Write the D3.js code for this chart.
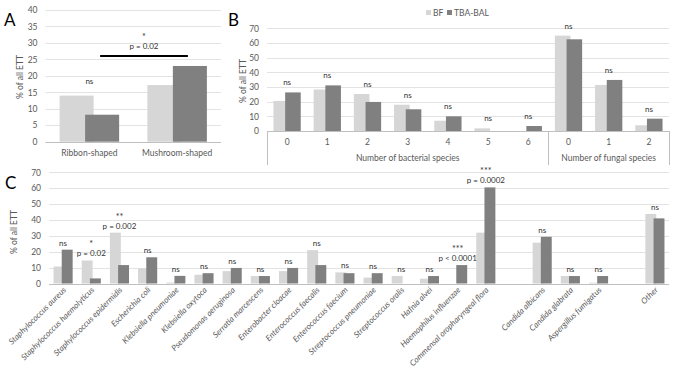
<!DOCTYPE html>
<html><head><meta charset="utf-8">
<script src="https://cdn.jsdelivr.net/npm/d3@7"></script>
<style>
body{margin:0;background:#fff}
text{font-family:Lato,"Open Sans","Liberation Sans",sans-serif}
</style>
</head><body>
<svg id="chart" width="677" height="375"></svg>
<script>
// ---------- data ----------
const seriesNames = ["BF", "TBA-BAL"];

const aCategories = ["Ribbon-shaped", "Mushroom-shaped"];
const aBF  = [14, 17.2];
const aTBA = [8.2, 23];
const aSig = ["ns", ""];
const aTicks = [0, 5, 10, 15, 20, 25, 30, 35, 40];
const aPairStar = "*";
const aPairP = "p = 0.02";
const aPairLevel = 26;

const bGroups = ["Number of bacterial species", "Number of fungal species"];
const bCategories = ["0", "1", "2", "3", "4", "5", "6", "0", "1", "2"];
const bGroupOf = [0, 0, 0, 0, 0, 0, 0, 1, 1, 1];
const bBF  = [20.5, 28.3, 25.2, 17.9, 7, 1.8, 0, 65, 31.4, 3.9];
const bTBA = [26.3, 31.1, 19.8, 14.8, 10, 0, 3.4, 62.5, 34.8, 8.4];
const bSig = ["ns", "ns", "ns", "ns", "ns", "ns", "ns", "ns", "ns", "ns"];
const bTicks = [0, 10, 20, 30, 40, 50, 60, 70];

const cCategories = [
  "Staphylococcus aureus", "Staphylococcus haemolyticus", "Staphylococcus epidermidis",
  "Escherichia coli", "Klebsiella pneumoniae", "Klebsiella oxytoca", "Pseudomonas aeruginosa",
  "Serratia marcescens", "Enterobacter cloacae", "Enterococcus faecalis", "Enterococcus faecium",
  "Streptococcus pneumoniae", "Streptococcus oralis", "Hafnia alvei", "Haemophilus influenzae",
  "Commensal oropharyngeal flora", "",
  "Candida albicans", "Candida glabrata", "Aspergillus fumigatus", "",
  "Other"];
const cBF  = [10.7, 14.5, 32, 9.5, 0.6, 5.5, 7.8, 4.7, 7.8, 21, 7, 3.7, 4.7, 3, 0, 32, null, 25.7, 4.7, 0.5, null, 43.8];
const cTBA = [21.3, 3.2, 11.6, 16.5, 4.8, 6.5, 9.8, 4.7, 9.8, 11.6, 6.5, 6.5, 0, 4.7, 11.6, 60.5, null, 29.4, 4.7, 4.7, null, 41];
const cStars = ["", "*", "**", "", "", "", "", "", "", "", "", "", "", "", "***", "***", "", "", "", "", "", ""];
const cP = ["ns", "p = 0.02", "p = 0.002", "ns", "ns", "ns", "ns", "ns", "ns", "ns", "ns", "ns", "ns", "ns", "p < 0.0001", "p = 0.0002", "", "ns", "ns", "ns", "", "ns"];
const cTicks = [0, 10, 20, 30, 40, 50, 60, 70];

// ---------- style ----------
const colBF = "#d6d6d6", colTBA = "#808080";
const gridCol = "#e3e3e3", axisCol = "#bfbfbf", txtCol = "#595959", annCol = "#333333";

const svg = d3.select("#chart");

function panel(o) {
  const n = o.cats.length;
  const x = d3.scaleBand().domain(d3.range(n)).range([o.left, o.right]).padding(0);
  const y = d3.scaleLinear().domain([0, o.max]).range([o.bottom, o.top]);
  const g = svg.append("g");
  g.selectAll("line.grid").data(o.ticks.filter(t => t > 0)).join("line")
    .attr("x1", o.left).attr("x2", o.right)
    .attr("y1", d => Math.round(y(d)) + 0.5).attr("y2", d => Math.round(y(d)) + 0.5)
    .attr("stroke", gridCol).attr("stroke-width", 1);
  const ax = d3.axisLeft(y).tickValues(o.ticks).tickSize(0).tickPadding(8);
  const axg = g.append("g").attr("transform", `translate(${o.left},0)`).call(ax);
  axg.select(".domain").remove();
  axg.selectAll("text").attr("fill", txtCol).style("font-size", "8.5px").style("font-family", "Lato,'Open Sans',sans-serif");
  const w = x.bandwidth() / 2.58;
  const cx = i => x(i) + x.bandwidth() / 2;
  const idx = d3.range(n).filter(i => o.bf[i] != null);
  g.selectAll("rect.bf").data(idx).join("rect")
    .attr("x", i => cx(i) - 0.875 * w).attr("width", w)
    .attr("y", i => y(o.bf[i])).attr("height", i => y(0) - y(o.bf[i]))
    .attr("fill", colBF);
  g.selectAll("rect.tba").data(idx).join("rect")
    .attr("x", i => cx(i) - 0.125 * w).attr("width", w)
    .attr("y", i => y(o.tba[i])).attr("height", i => y(0) - y(o.tba[i]))
    .attr("fill", colTBA);
  g.append("line").attr("x1", o.left).attr("x2", o.right)
    .attr("y1", Math.round(y(0)) + 0.5).attr("y2", Math.round(y(0)) + 0.5)
    .attr("stroke", axisCol).attr("stroke-width", 1);
  g.append("text").attr("transform", `translate(${o.titleX},${o.titleY}) rotate(-90)`)
    .attr("text-anchor", "middle").attr("dominant-baseline", "middle")
    .attr("fill", txtCol).style("font-size", "8.5px").text("% of all ETT");
  return {x, y, g, cx, w};
}

// ---------- Panel A ----------
const A = panel({left: 45.5, right: 221, top: 10, bottom: 141.7, max: 40, ticks: aTicks,
  cats: aCategories, bf: aBF, tba: aTBA, titleX: 21, titleY: 77});
A.g.selectAll("text.cat").data(aCategories).join("text")
  .attr("x", (d, i) => A.cx(i)).attr("y", 156).attr("text-anchor", "middle")
  .attr("fill", txtCol).style("font-size", "8.5px").text(d => d);
A.g.selectAll("text.sig").data(aSig).join("text")
  .attr("x", (d, i) => A.cx(i)).attr("y", (d, i) => A.y(Math.max(aBF[i], aTBA[i])) - 12)
  .attr("text-anchor", "middle").attr("fill", annCol).style("font-size", "8px").text(d => d);
{
  const x1 = A.cx(0) + 0.375 * A.w - 2, x2 = A.cx(1) + 0.375 * A.w - 2;
  const yl = A.y(aPairLevel);
  A.g.append("line").attr("x1", x1).attr("x2", x2).attr("y1", yl).attr("y2", yl)
    .attr("stroke", "#000").attr("stroke-width", 2);
  A.g.append("text").attr("x", (x1 + x2) / 2).attr("y", yl - 7).attr("text-anchor", "middle")
    .attr("fill", annCol).style("font-size", "8px").text(aPairP);
  A.g.append("text").attr("x", (x1 + x2) / 2).attr("y", yl - 16).attr("text-anchor", "middle")
    .attr("fill", annCol).style("font-size", "9px").text(aPairStar);
}

// ---------- Panel B ----------
const B = panel({left: 267, right: 669, top: 28.3, bottom: 131, max: 70, ticks: bTicks,
  cats: bCategories, bf: bBF, tba: bTBA, titleX: 244, titleY: 81});
B.g.selectAll("text.cat").data(bCategories).join("text")
  .attr("x", (d, i) => B.cx(i)).attr("y", 145).attr("text-anchor", "middle")
  .attr("fill", txtCol).style("font-size", "8.5px").text(d => d);
B.g.selectAll("text.sig").data(bSig).join("text")
  .attr("x", (d, i) => B.cx(i)).attr("y", (d, i) => B.y(Math.max(bBF[i], bTBA[i])) - 7)
  .attr("text-anchor", "middle").attr("fill", annCol).style("font-size", "8px").text(d => d);
{
  const bounds = [0];
  for (let i = 1; i < bCategories.length; i++) if (bGroupOf[i] !== bGroupOf[i - 1]) bounds.push(i);
  const edges = bounds.map(i => B.x(i)).concat([B.x(bCategories.length - 1) + B.x.bandwidth()]);
  B.g.selectAll("line.sep").data(edges).join("line")
    .attr("x1", d => Math.round(d) + 0.5).attr("x2", d => Math.round(d) + 0.5)
    .attr("y1", B.y(0)).attr("y2", 165).attr("stroke", axisCol);
  B.g.selectAll("text.grp").data(bGroups).join("text")
    .attr("x", (d, k) => (edges[k] + edges[k + 1]) / 2).attr("y", 161)
    .attr("text-anchor", "middle").attr("fill", txtCol).style("font-size", "8.5px").text(d => d);
  const leg = svg.append("g");
  const lx = [426, 447];
  leg.selectAll("rect").data(seriesNames).join("rect")
    .attr("x", (d, i) => lx[i]).attr("y", 10).attr("width", 5).attr("height", 5)
    .attr("fill", (d, i) => i ? colTBA : colBF);
  leg.selectAll("text").data(seriesNames).join("text")
    .attr("x", (d, i) => lx[i] + 7).attr("y", 15.5)
    .attr("fill", txtCol).style("font-size", "8.5px").text(d => d);
}

// ---------- Panel C ----------
const C = panel({left: 49, right: 669, top: 172.3, bottom: 283.5, max: 70, ticks: cTicks,
  cats: cCategories, bf: cBF, tba: cTBA, titleX: 15, titleY: 232});
C.g.selectAll("text.cat").data(cCategories).join("text")
  .attr("transform", (d, i) => `translate(${C.cx(i) + 2},${289}) rotate(-45)`)
  .attr("text-anchor", "end").attr("dominant-baseline", "middle")
  .attr("fill", txtCol).style("font-size", "8.2px").style("font-style", "italic").text(d => d);
C.g.selectAll("text.p").data(cP).join("text")
  .attr("x", (d, i) => C.cx(i)).attr("y", (d, i) => C.y(Math.max(cBF[i] || 0, cTBA[i] || 0)) - 4)
  .attr("text-anchor", "middle").attr("fill", annCol).style("font-size", "8px").text(d => d);
C.g.selectAll("text.st").data(cStars).join("text")
  .attr("x", (d, i) => C.cx(i)).attr("y", (d, i) => C.y(Math.max(cBF[i] || 0, cTBA[i] || 0)) - 13)
  .attr("text-anchor", "middle").attr("fill", annCol).style("font-size", "9px").text(d => d);

// ---------- panel letters ----------
svg.selectAll("text.letter").data([["A", 4, 26], ["B", 228, 26], ["C", 5, 189]]).join("text")
  .attr("x", d => d[1]).attr("y", d => d[2]).attr("fill", "#000")
  .style("font-size", "17px").text(d => d[0]);
</script>
</body></html>
